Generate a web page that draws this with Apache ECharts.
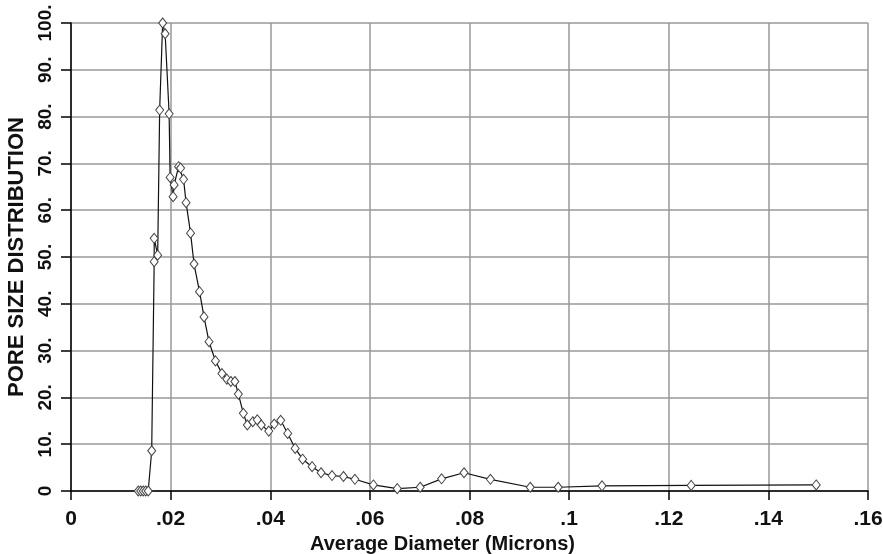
<!DOCTYPE html>
<html>
<head>
<meta charset="utf-8">
<script src="https://cdn.jsdelivr.net/npm/echarts@6/dist/echarts.min.js"></script>
<style>html,body{margin:0;padding:0;background:#fff;}#c{width:883px;height:554px;}</style>
</head>
<body>
<div id="c"></div>
<script>
var diameters = [0.0135,0.0140,0.0145,0.0150,0.0155,0.0162,0.0167,0.0167,0.0174,0.0178,0.0184,0.0189,0.0197,0.0199,0.0205,0.0207,0.0216,0.0220,0.0226,0.0231,0.0240,0.0247,0.0258,0.0267,0.0277,0.0290,0.0303,0.0313,0.0321,0.0329,0.0336,0.0346,0.0354,0.0365,0.0374,0.0382,0.0397,0.0408,0.0421,0.0435,0.0450,0.0465,0.0484,0.0502,0.0524,0.0547,0.0570,0.0607,0.0655,0.0701,0.0744,0.0789,0.0842,0.0922,0.0978,0.1066,0.1245,0.1496];
var distribution = [0,0,0,0,0,8.6,49.0,54.0,50.4,81.4,100,97.7,80.6,67.0,62.9,65.4,69.3,69.0,66.6,61.6,55.1,48.5,42.6,37.2,31.9,27.8,25.1,23.9,23.4,23.4,20.7,16.6,14.1,14.8,15.2,14.1,12.8,14.3,15.1,12.3,9.1,6.8,5.2,3.9,3.3,3.1,2.5,1.3,0.5,0.8,2.6,3.9,2.5,0.8,0.8,1.1,1.2,1.3];
var xTitle = 'Average Diameter (Microns)';
var yTitle = 'PORE SIZE DISTRIBUTION';

var pts = diameters.map(function(d,i){return [d, distribution[i]];});
var chart = echarts.init(document.getElementById('c'));
var font = 'Liberation Sans, Arial, sans-serif';
chart.setOption({
  animation:false,
  backgroundColor:'#fff',
  grid:{left:71,right:15,top:23,bottom:63,outerBoundsMode:'none',containLabel:false},
  xAxis:{
    type:'value',min:0,max:0.16,interval:0.02,
    name:xTitle,nameLocation:'middle',nameGap:41,
    nameTextStyle:{fontFamily:font,fontWeight:'bold',fontSize:20,color:'#111',padding:[0,54,0,0]},
    axisLine:{show:true,lineStyle:{color:'#000',width:1.5}},
    axisTick:{show:true,length:9,lineStyle:{color:'#000',width:1.5}},
    axisLabel:{margin:18,fontFamily:font,fontWeight:'bold',fontSize:21,color:'#111',
      formatter:function(v){if(v===0)return '0';return parseFloat(v.toFixed(2)).toString().replace(/^0\./,'.');}},
    splitLine:{show:true,lineStyle:{color:'#999',width:1.5}}
  },
  yAxis:{
    type:'value',min:0,max:100,interval:10,
    name:yTitle,nameLocation:'middle',nameGap:37,nameRotate:90,
    nameTextStyle:{fontFamily:font,fontWeight:'bold',fontSize:22,color:'#111'},
    axisLine:{show:true,lineStyle:{color:'#000',width:1.5}},
    axisTick:{show:true,length:10,lineStyle:{color:'#000',width:1.5}},
    axisLabel:{rotate:90,margin:16,fontFamily:font,fontWeight:'bold',fontSize:19,color:'#111',
      formatter:function(v){return v===0?'0':v+'.';}},
    splitLine:{show:true,lineStyle:{color:'#999',width:1.5}}
  },
  series:[{
    type:'line',data:pts,
    lineStyle:{color:'#111',width:1.2},
    symbol:'diamond',symbolSize:[8,10],showAllSymbol:true,
    itemStyle:{color:'#fff',borderColor:'#444',borderWidth:1}
  }]
});
</script>
</body>
</html>
